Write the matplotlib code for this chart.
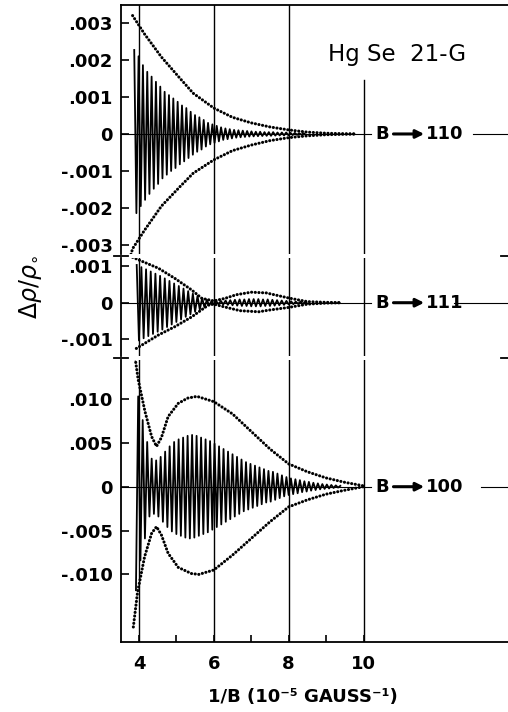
import numpy as np
import matplotlib.pyplot as plt
from matplotlib.lines import Line2D

plt.rcParams['font.family'] = ['DejaVu Sans']

# all values in units of 1e-3 (delta rho / rho0)
x_major = [4, 6, 8, 10]
x_minor = [5, 7, 9]

# ---- B -> 110 ----
osc110_period = 0.116
osc110_up_x0 = 3.874
osc110_up = [2.27, 2.10, 1.86, 1.68, 1.55, 1.41, 1.28, 1.14, 1.05, 0.96,
             0.87, 0.77, 0.70, 0.60, 0.51, 0.45, 0.38, 0.30, 0.26, 0.22,
             0.18, 0.15, 0.13, 0.11, 0.10, 0.09, 0.08, 0.07, 0.06, 0.06,
             0.05, 0.05, 0.05, 0.04, 0.04, 0.04, 0.03, 0.03, 0.02, 0.02]
osc110_lo_x0 = 3.932
osc110_lo = [2.14, 1.95, 1.78, 1.62, 1.48, 1.35, 1.20, 1.10, 1.00, 0.92,
             0.82, 0.74, 0.65, 0.56, 0.48, 0.42, 0.34, 0.28, 0.24, 0.20,
             0.16, 0.14, 0.12, 0.10, 0.09, 0.08, 0.07, 0.065, 0.06, 0.055,
             0.05, 0.05, 0.045, 0.04, 0.04, 0.035, 0.03, 0.025, 0.02, 0.02]
env110_hi_x = [3.83, 4.15, 4.6, 5.1, 5.45, 6.0, 6.5, 7.0, 7.5, 8.0, 8.5, 9.0, 9.75]
env110_hi = [3.2, 2.7, 2.08, 1.5, 1.1, 0.7, 0.45, 0.3, 0.19, 0.11, 0.05, 0.02, 0.0]
env110_lo_x = [3.76, 3.83, 4.15, 4.6, 5.1, 5.45, 6.0, 6.5, 7.0, 7.5, 8.0, 8.5, 9.0, 9.75]
env110_lo = [-3.35, -3.1, -2.6, -1.95, -1.42, -1.06, -0.7, -0.45, -0.3, -0.18, -0.1, -0.05, -0.02, 0.0]

# ---- B -> 111 ----
osc111_period = 0.125
osc111_up_x0 = 3.94
osc111_up = [1.04, 0.98, 0.92, 0.86, 0.80, 0.74, 0.67, 0.60, 0.53, 0.46,
             0.39, 0.32, 0.25, 0.19, 0.13, 0.08, 0.05, 0.04, 0.05, 0.06,
             0.07, 0.08, 0.09, 0.09, 0.10, 0.10, 0.10, 0.09, 0.09, 0.08,
             0.07, 0.06, 0.05, 0.04, 0.03, 0.03, 0.02]
osc111_lo_x0 = 4.0
osc111_lo = [1.04, 0.98, 0.92, 0.86, 0.80, 0.74, 0.67, 0.60, 0.53, 0.46,
             0.39, 0.32, 0.25, 0.19, 0.13, 0.08, 0.05, 0.04, 0.05, 0.06,
             0.07, 0.08, 0.09, 0.09, 0.10, 0.10, 0.10, 0.09, 0.09, 0.08,
             0.07, 0.06, 0.05, 0.04, 0.03, 0.03, 0.02]
env111_hi_x = [3.65, 4.52, 4.96, 5.41, 5.68, 6.0, 6.3, 6.6, 7.0, 7.4, 8.0, 8.5, 9.0, 9.4]
env111_hi = [1.33, 0.95, 0.67, 0.35, 0.12, 0.05, 0.12, 0.22, 0.29, 0.27, 0.13, 0.03, 0.01, 0.0]
env111_lo_x = [3.93, 4.52, 4.96, 5.41, 5.86, 6.0, 6.3, 6.7, 7.2, 7.5, 8.0, 8.5, 9.0, 9.4]
env111_lo = [-1.26, -0.89, -0.66, -0.39, -0.06, -0.04, -0.12, -0.22, -0.25, -0.2, -0.13, -0.04, -0.01, 0.0]

# ---- B -> 100 ----
osc100_period = 0.12
osc100_up_x0 = 3.98
osc100_up = [10.3, 7.6, 5.1, 3.2, 3.0, 3.4, 4.0, 4.6, 5.1, 5.4,
             5.6, 5.8, 5.9, 5.8, 5.6, 5.4, 5.2, 4.9, 4.6, 4.3,
             4.0, 3.7, 3.4, 3.1, 2.8, 2.6, 2.4, 2.2, 2.0, 1.8,
             1.7, 1.5, 1.3, 1.1, 0.95, 0.85, 0.75, 0.62, 0.55, 0.45,
             0.38, 0.30, 0.25, 0.20, 0.15, 0.10]
osc100_lo_x0 = 3.92
osc100_lo = [11.8, 8.4, 5.9, 3.4, 3.1, 3.4, 4.0, 4.6, 5.1, 5.4,
             5.6, 5.8, 5.9, 5.8, 5.6, 5.4, 5.2, 4.9, 4.6, 4.3,
             4.0, 3.7, 3.4, 3.1, 2.8, 2.6, 2.4, 2.2, 2.0, 1.8,
             1.7, 1.5, 1.3, 1.1, 0.95, 0.85, 0.75, 0.62, 0.55, 0.45,
             0.38, 0.30, 0.25, 0.20, 0.15, 0.10]
env100_hi_x = [3.9, 3.98, 4.16, 4.34, 4.47, 4.6, 4.78, 5.05, 5.3, 5.55, 6.0, 6.5, 7.0, 7.5, 8.0, 8.5, 9.0, 9.5, 10.0]
env100_hi = [14.6, 12.2, 8.6, 5.7, 4.6, 5.6, 8.0, 9.5, 10.1, 10.3, 9.7, 8.3, 6.3, 4.3, 2.6, 1.7, 1.0, 0.5, 0.1]
env100_lo_x = [3.85, 3.96, 4.15, 4.34, 4.47, 4.6, 4.78, 5.05, 5.4, 5.6, 6.0, 6.5, 7.0, 7.5, 8.0, 8.5, 9.0, 9.5, 10.0]
env100_lo = [-16.0, -12.1, -8.0, -5.3, -4.56, -5.5, -7.6, -9.2, -9.9, -10.0, -9.5, -7.8, -5.9, -4.0, -2.3, -1.5, -0.85, -0.4, 0.0]

panels = [
    dict(name='110', rect=[0.238, 0.6433, 0.762, 0.3497], ylim=(-3.243, 3.486),
         ticks=[3, 2, 1, 0, -1, -2, -3],
         labels=['.003', '.002', '.001', '0', '-.001', '-.002', '-.003'],
         period=osc110_period, up_x0=osc110_up_x0, up=osc110_up, lo_x0=osc110_lo_x0, lo=osc110_lo,
         hx=env110_hi_x, hy=env110_hi, lx=env110_lo_x, ly=env110_lo,
         v10_top=1.46, gap=(10.19, 12.92)),
    dict(name='111', rect=[0.238, 0.5, 0.762, 0.1376], ylim=(-1.468, 1.231),
         ticks=[1, 0, -1], labels=['.001', '0', '-.001'],
         period=osc111_period, up_x0=osc111_up_x0, up=osc111_up, lo_x0=osc111_lo_x0, lo=osc111_lo,
         hx=env111_hi_x, hy=env111_hi, lx=env111_lo_x, ly=env111_lo,
         v10_top=None, gap=(10.19, 12.41)),
    dict(name='100', rect=[0.238, 0.0983, 0.762, 0.3961], ylim=(-17.71, 14.45),
         ticks=[10, 5, 0, -5, -10], labels=['.010', '.005', '0', '-.005', '-.010'],
         period=osc100_period, up_x0=osc100_up_x0, up=osc100_up, lo_x0=osc100_lo_x0, lo=osc100_lo,
         hx=env100_hi_x, hy=env100_hi, lx=env100_lo_x, ly=env100_lo,
         v10_top=None, gap=(10.19, 13.13)),
]

xlim = (3.518, 13.86)
tick_font = dict(fontsize=13, fontweight='bold')

fig = plt.figure(figsize=(5.08, 7.12), dpi=100)

for i, p in enumerate(panels):
    ax = fig.add_axes(p['rect'])
    ax.set_xlim(xlim)
    ax.set_ylim(p['ylim'])

    # oscillation trace: alternating maxima and minima
    xu = p['up_x0'] + p['period'] * np.arange(len(p['up']))
    xl = p['lo_x0'] + p['period'] * np.arange(len(p['lo']))
    xs = np.concatenate([xu, xl])
    ys = np.concatenate([np.array(p['up']), -np.array(p['lo'])])
    order = np.argsort(xs)
    ax.plot(xs[order], ys[order], color='black', lw=1.3, zorder=3)

    # dotted envelopes
    for ex, ey in [(p['hx'], p['hy']), (p['lx'], p['ly'])]:
        ax.plot(ex, ey, color='black', lw=2.2, linestyle=(0, (0.05, 1.15)),
                dash_capstyle='round', zorder=4)

    # zero line, broken around the label
    ax.plot([xlim[0], p['gap'][0]], [0, 0], color='black', lw=0.8, zorder=2)
    ax.plot([p['gap'][1], xlim[1]], [0, 0], color='black', lw=0.8, zorder=2)
    ax.text(10.51, 0, 'B', ha='center', va='center', **tick_font)
    ax.annotate('', xy=(11.62, 0), xytext=(10.8, 0),
                arrowprops=dict(arrowstyle='-|>', color='black', lw=2.2, mutation_scale=12,
                                shrinkA=0, shrinkB=0))
    ax.text(11.68, 0, p['name'], ha='left', va='center', **tick_font)

    # vertical grid lines
    for xv in x_major:
        top = p['ylim'][1]
        if xv == 10 and p['v10_top'] is not None:
            top = p['v10_top']
        ax.plot([xv, xv], [p['ylim'][0], top], color='black', lw=1.0, zorder=1)

    ax.set_yticks(p['ticks'])
    ax.set_yticklabels(p['labels'], **tick_font)
    ax.tick_params(axis='y', direction='in', length=6, width=1.2, pad=6)
    ax.spines['right'].set_visible(False)
    ax.spines['left'].set_linewidth(1.3)
    ax.spines['top'].set_visible(i == 0)
    ax.spines['bottom'].set_visible(i == 2)
    ax.spines['top'].set_linewidth(1.3)
    ax.spines['bottom'].set_linewidth(1.3)

    if i == 2:
        ax.set_xticks(x_major)
        ax.set_xticklabels([str(v) for v in x_major], **tick_font)
        ax.set_xticks(x_minor, minor=True)
        ax.tick_params(axis='x', which='both', direction='in', length=5, width=1.2, pad=9)
    else:
        ax.set_xticks([])

    if i == 0:
        ax.text(0.713, 0.8, 'Hg Se  21-G', transform=ax.transAxes, ha='center', va='center',
                fontsize=16.5, fontweight='medium')

# break marks on the axis
for yb in [1 - 256 / 712, 1 - 358 / 712]:
    fig.add_artist(Line2D([114 / 508, 128 / 508], [yb, yb], color='black', lw=1.3))
    fig.add_artist(Line2D([501 / 508, 508 / 508], [yb, yb], color='black', lw=1.3))

fig.text(0.06, 1 - 287 / 712, r'$\Delta\rho/\rho_{\circ}$', rotation=90,
         ha='center', va='center', fontsize=17)
fig.text(303 / 508, 1 - 697 / 712, '1/B (10\u207b\u2075 GAUSS\u207b\u00b9)',
         ha='center', va='center', **tick_font)

fig.savefig('out.png', dpi=100)
